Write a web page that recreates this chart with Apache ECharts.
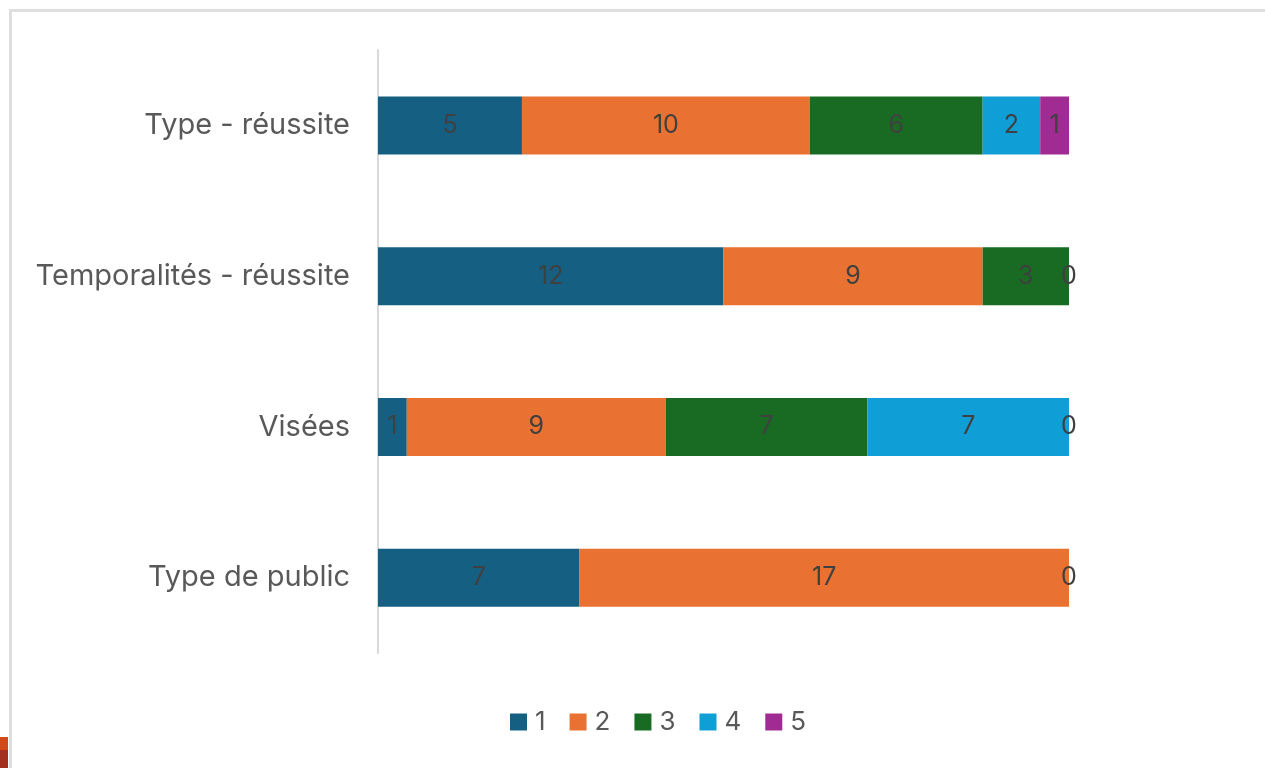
<!DOCTYPE html>
<html><head><meta charset="utf-8">
<script src="https://cdn.jsdelivr.net/npm/echarts@6/dist/echarts.min.js"></script>
<style>
html,body{margin:0;padding:0;background:#fff;overflow:hidden}
#frame{position:absolute;left:9px;top:9px;width:1300px;height:800px;border-left:3px solid #dedede;border-top:3px solid #dedede;}
#chip1{position:absolute;left:0;top:737px;width:8px;height:13px;background:#d24a1a}
#chip2{position:absolute;left:0;top:750px;width:8px;height:18px;background:#a3301f}
#c{position:absolute;left:0;top:0;width:1265px;height:768px}
</style></head>
<body>
<div id="frame"></div><div id="chip1"></div><div id="chip2"></div>
<div id="c"></div>
<script>
const categories = ['Type - réussite', 'Temporalités - réussite', 'Visées', 'Type de public'];
const seriesNames = ['1', '2', '3', '4', '5'];
const s1 = [5, 12, 1, 7];
const s2 = [10, 9, 9, 17];
const s3 = [6, 3, 7, 0];
const s4 = [2, 0, 7, null];
const s5 = [1, null, 0, null];
const colors = ['#156082', '#e97132', '#196b24', '#0f9ed5', '#a02b93'];
const values = [s1, s2, s3, s4, s5];

const chart = echarts.init(document.getElementById('c'));
chart.setOption({
  animation: false,
  color: colors,
  grid: {left: 378, right: 196, top: 50, bottom: 115},
  legend: {
    bottom: 28, left: 505, itemWidth: 17, itemHeight: 17, itemGap: 24,
    icon: 'rect',
    textStyle: {fontFamily: 'Inter', fontSize: 26, color: '#595959', padding: [0,0,0,3]},
    data: seriesNames
  },
  xAxis: {type: 'value', min: 0, max: 24, show: false},
  yAxis: {
    type: 'category', data: categories, inverse: true,
    axisLine: {lineStyle: {color: '#d9d9d9', width: 2}},
    axisTick: {show: false},
    axisLabel: {fontFamily: 'Inter', fontSize: 29, color: '#595959', margin: 28}
  },
  series: values.map((v, i) => ({
    name: seriesNames[i], type: 'bar', stack: 'total', barWidth: 58,
    data: v,
    label: {show: true, position: 'inside', fontFamily: 'Inter', fontSize: 25, color: '#404040'}
  }))
});
</script>
</body></html>
